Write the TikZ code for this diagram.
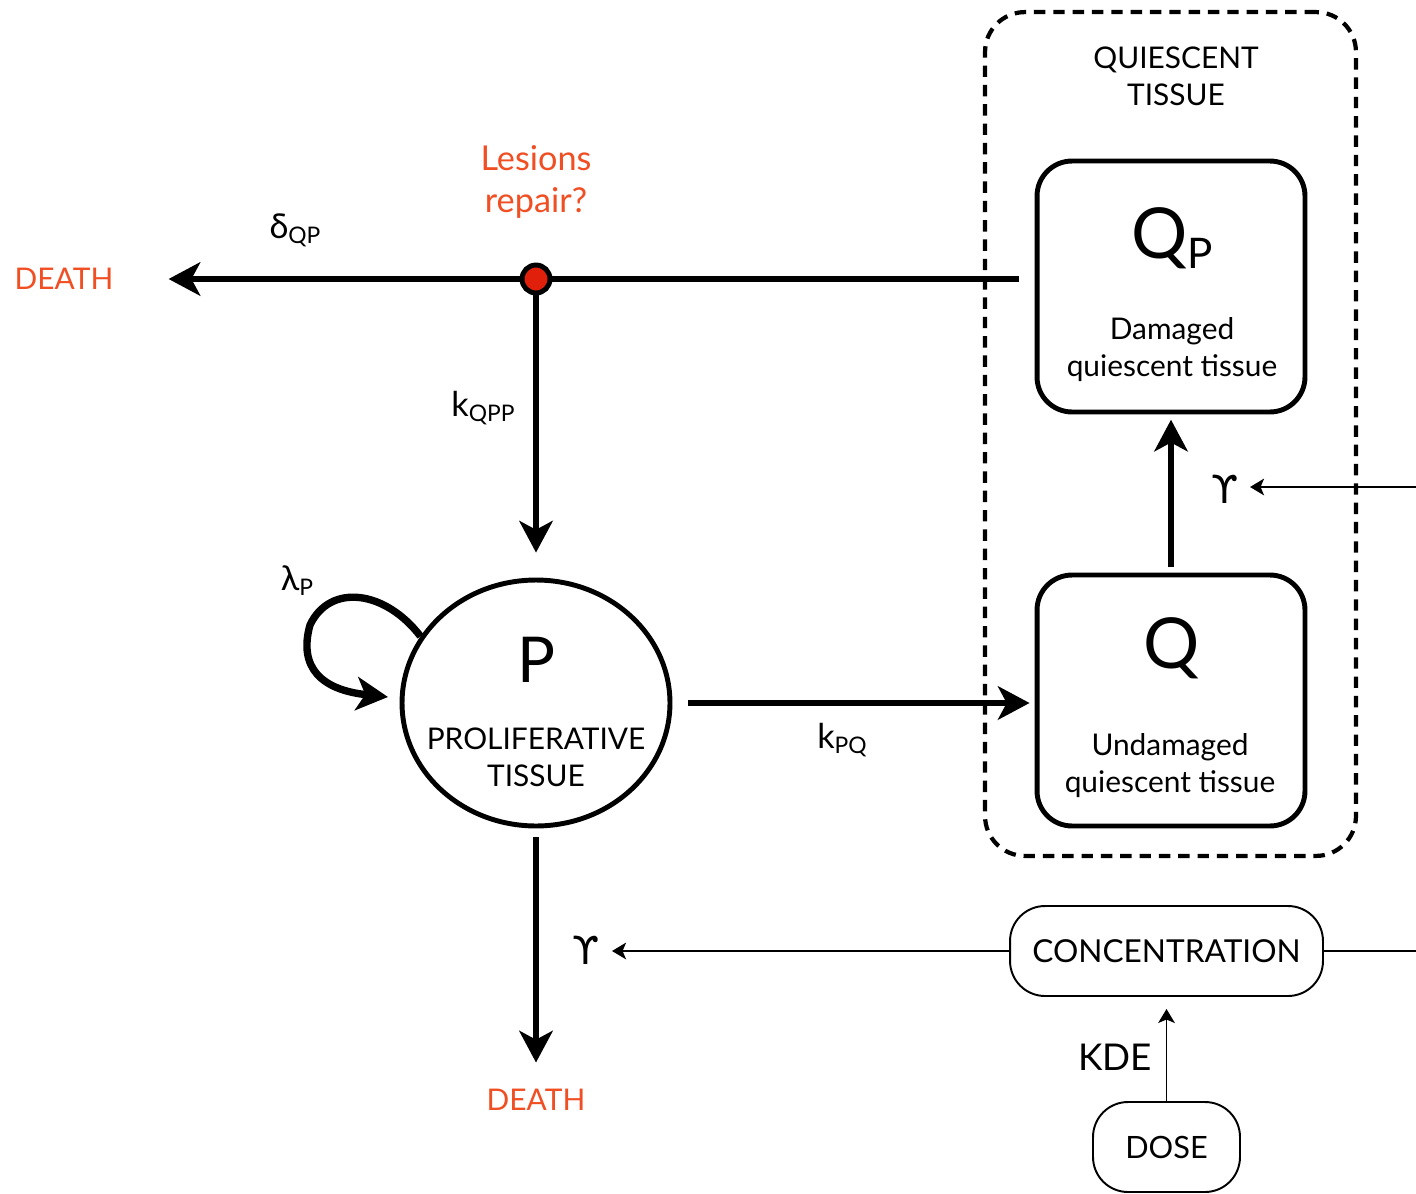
\documentclass[tikz,border=0pt]{standalone}
\usepackage{fontspec}
\setmainfont{Lato}
\newfontfamily\symfont{DejaVu Sans}
\usetikzlibrary{arrows.meta, positioning, calc, shapes.geometric}
\definecolor{nred}{HTML}{F04E23}
\definecolor{ndot}{HTML}{E0200A}
\newcommand{\sub}[1]{\raisebox{-0.3ex}{\fontsize{13}{13}\selectfont #1}}

\begin{document}
\begin{tikzpicture}[
  x=0.02cm, y=-0.02cm,
  % text sizes are given in pt; one reference pixel is 0.02cm
  lbl/.style   = {font=\fontsize{17}{21}\selectfont, align=center, inner sep=0pt},
  rate/.style  = {lbl, font=\fontsize{19.5}{21}\selectfont},
  redlbl/.style= {lbl, text=nred},
  ups/.style   = {lbl, font=\fontsize{22}{22}\symfont},
  bigq/.style  = {font=\fontsize{40}{40}\selectfont, inner sep=0pt},
  card/.style  = {draw, line width=2.8pt, rounded corners=0.7cm,
                  minimum width=5.36cm, minimum height=5.02cm},
  pill/.style  = {draw, line width=1.1pt, rounded corners=0.7cm,
                  minimum height=1.8cm, inner sep=0pt},
  group/.style = {draw, line width=2.4pt, rounded corners=0.8cm,
                  dash pattern=on 6.5pt off 4.5pt,
                  minimum width=7.42cm, minimum height=16.88cm},
  flow/.style  = {-{Stealth[length=18pt, width=19pt, inset=5pt]}, line width=3.6pt},
  plain/.style = {line width=3.4pt},
  feed/.style  = {-{Stealth[length=8pt, width=9.5pt, inset=2pt]}, line width=1.1pt},
]
\useasboundingbox (0,0) rectangle (1416,1193);

% ============================ quiescent compartment =========================
\node[group] (quies) at (1170.5,434) {};
\node[lbl] (quiestitle) at (1176,76) {QUIESCENT\\TISSUE};

\node[card] (qp) at (1171,286.5) {};
\node[bigq] (qpname) at (1172,238) {Q\raisebox{-6pt}{\fontsize{24}{24}\selectfont P}};
\node[lbl] (qptext) at (1172,350) {Damaged\\quiescent tissue};

\node[card] (q) at (1171,700.5) {};
\node[bigq] (qname) at (1172,648) {Q};
\node[lbl] (qtext) at (1170,766) {Undamaged\\quiescent tissue};

\draw[flow, shorten <=3pt, shorten >=3pt] (q.north) -- (qp.south);

% ============================ proliferative compartment =====================
\node[draw, ellipse, line width=2.8pt, minimum width=5.36cm,
      minimum height=4.92cm] (p) at (536,703) {};
\node[font=\fontsize{36}{36}\selectfont, inner sep=0pt] (pname) at (536,660) {P};
\node[lbl] (ptext) at (536,757) {PROLIFERATIVE\\TISSUE};

\node[rate] (lamp) at (297,581) {λ\sub{P}};
\draw[flow, line width=4.2pt] (p.150) .. controls (385,590) and (330,583) .. (310,625)
      .. controls (298,668) and (322,690) .. (388,697);

% ============================ damage, repair and death ======================
\node[redlbl] (death1) at (64,279) {DEATH};
\node[circle, draw, line width=2.8pt, fill=ndot, minimum size=0.56cm,
      inner sep=0pt] (repair) at (536,279) {};
\node[redlbl, font=\fontsize{19.5}{24}\selectfont] (lesion) at (536,182) {Lesions\\repair?};
\node[rate] (delta) at (295,230) {δ\sub{QP}};
\node[rate] (kqpp) at (483,408) {k\sub{QPP}};

\draw[plain, shorten <=0.32cm] (repair -| qp.west) -- (repair);
\draw[flow, shorten >=1.1cm] (repair) -- (death1);
\draw[flow, shorten >=0.5cm] (repair) -- (p);

\node[rate] (kpq) at (842,740) {k\sub{PQ}};
\draw[flow, shorten <=0.32cm, shorten >=0.1cm] (p.east) -- (p.east -| q.west);

\node[redlbl] (death2) at (536,1100) {DEATH};
\draw[flow, shorten <=0.18cm, shorten >=0.75cm] (p.south) -- (death2.center);

% ============================ drug exposure =================================
\node[pill, minimum width=6.26cm] (conc) at (1166.5,951) {\fontsize{18}{21}\selectfont CONCENTRATION};
\node[pill, minimum width=2.94cm] (dose) at (1166.5,1147) {\fontsize{17.5}{21}\selectfont DOSE};
\node[lbl, font=\fontsize{21}{21}\selectfont] (kde) at (1115,1057) {KDE};
\draw[feed, shorten >=0.24cm] (dose.north) -- (conc.south);

\node[ups] (ups1) at (586,950) {ϒ};
\node[ups] (ups2) at (1225,489) {ϒ};
\draw[feed, shorten >=0.52cm] (conc.west) -- (conc.west -| ups1.center);

\coordinate (edge1) at (1416,951);
\coordinate (edge2) at (1416,487);
\draw[line width=1.1pt] (conc.east) -- (edge1);
\draw[feed, shorten >=0.5cm] (edge2) -- (edge2 -| ups2.center);

\end{tikzpicture}
\end{document}
